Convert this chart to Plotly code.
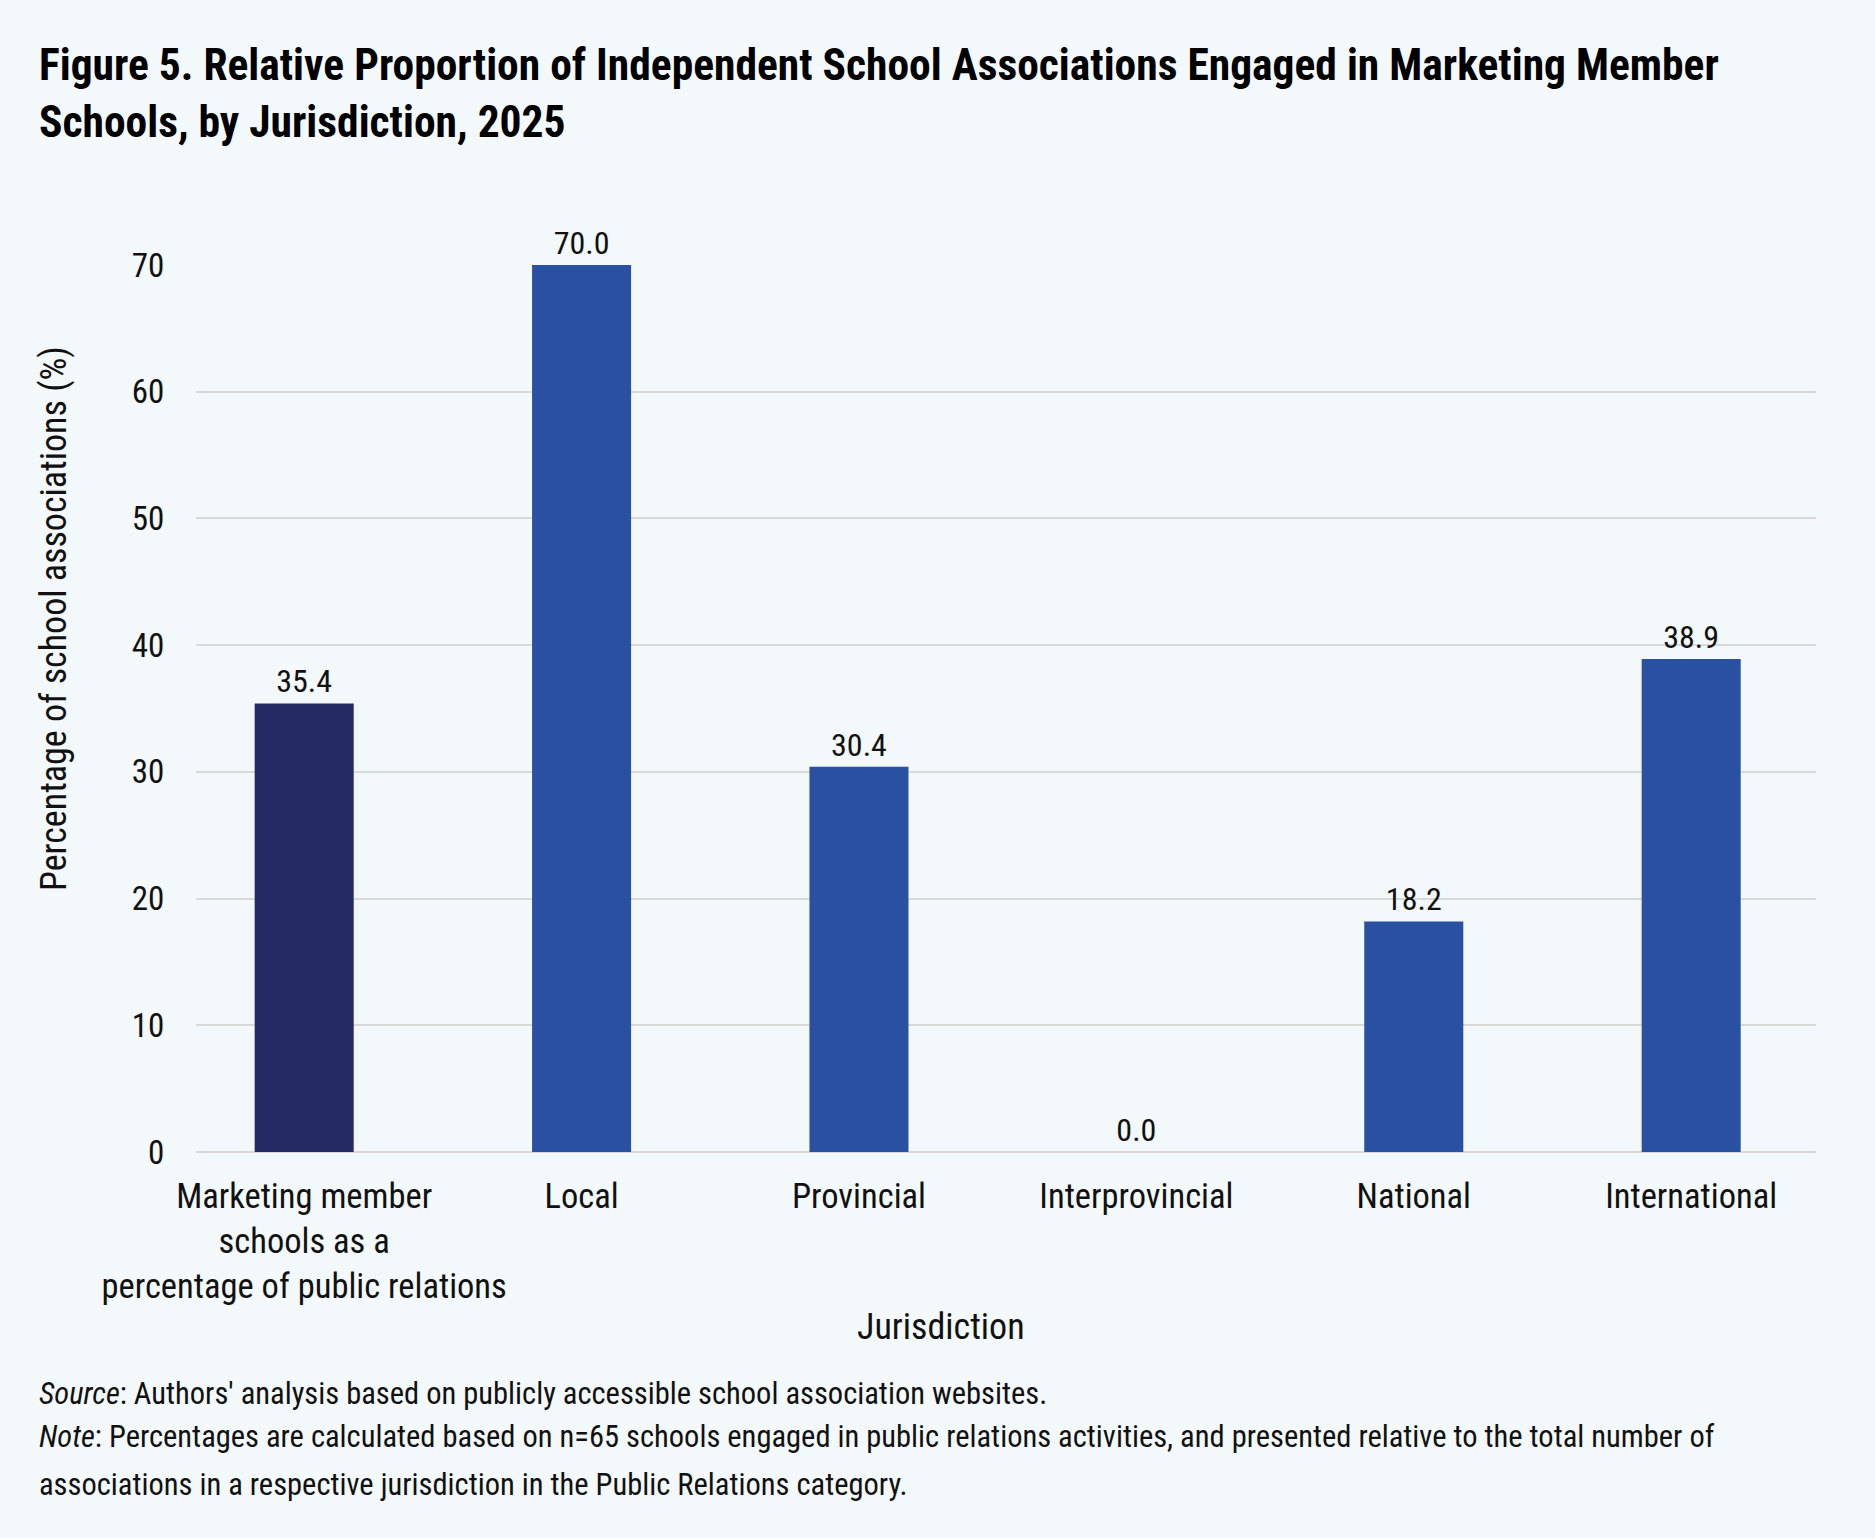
import plotly.graph_objects as go

categories = [
    "Marketing member<br>schools as a<br>percentage of public relations",
    "Local", "Provincial", "Interprovincial", "National", "International",
]
values = [35.4, 70.0, 30.4, 0.0, 18.2, 38.9]
bar_colors = ["#232A64", "#2A50A1", "#2A50A1", "#2A50A1", "#2A50A1", "#2A50A1"]
y_ticks = [0, 10, 20, 30, 40, 50, 60, 70]

title_text = ("<b>Figure 5. Relative Proportion of Independent School Associations Engaged in Marketing Member"
              "<br>Schools, by Jurisdiction, 2025</b>")
y_title = "Percentage of school associations (%)"
x_title = "Jurisdiction"
footnote_lines = [
    "<i>Source</i>: Authors' analysis based on publicly accessible school association websites.",
    "<i>Note</i>: Percentages are calculated based on n=65 schools engaged in public relations activities, "
    "and presented relative to the total number of",
    "associations in a respective jurisdiction in the Public Relations category.",
]
footnote_y = [1393, 1436, 1484]

FONT = "Roboto Condensed, Roboto, sans-serif"
BG = "#F3F8FB"
W, H = 1875, 1538
L, R, T, B = 196, 59, 265, 386
PW, PH = W - L - R, H - T - B


def f(size, color="#111111"):
    return dict(family=FONT, size=size, color=color)


fig = go.Figure()
fig.add_trace(go.Bar(
    x=list(range(len(categories))), y=values,
    marker=dict(color=bar_colors, line=dict(width=0)),
    width=0.357,
    text=[f"{v:.1f}" for v in values],
    textposition="outside",
    textfont=f(32),
    cliponaxis=False,
))

annotations = [
    dict(text=title_text, xref="paper", yref="paper", x=(37 - L) / PW,
         y=1 + (T - 38) / PH, xanchor="left", yanchor="top", align="left",
         showarrow=False, font=f(43.5, "#000000")),
    dict(text=y_title, xref="paper", yref="paper", x=(54 - L) / PW,
         y=(1152 - 619) / PH, xanchor="center", yanchor="middle",
         textangle=-90, showarrow=False, font=f(36)),
    dict(text=x_title, xref="paper", yref="paper", x=(941 - L) / PW,
         y=-(1327 - 1152) / PH, xanchor="center", yanchor="middle",
         showarrow=False, font=f(36)),
]
for line, yy in zip(footnote_lines, footnote_y):
    annotations.append(dict(text=line, xref="paper", yref="paper",
                            x=(37 - L) / PW, y=-(yy - 1152) / PH,
                            xanchor="left", yanchor="middle", align="left", showarrow=False,
                            font=f(30.5)))

fig.update_layout(
    width=W, height=H,
    margin=dict(l=L, r=R, t=T, b=B, pad=0),
    paper_bgcolor=BG, plot_bgcolor=BG,
    showlegend=False,
    font=f(32),
    xaxis=dict(
        tickmode="array", tickvals=list(range(len(categories))), ticktext=categories,
        range=[-0.39, 5.45],
        tickfont=f(34.5),
        ticks="outside", ticklen=14, tickcolor=BG,
        showgrid=False, zeroline=False, showline=False,
    ),
    yaxis=dict(
        range=[0, 70], tickvals=y_ticks,
        tickfont=f(33),
        ticks="outside", ticklen=24, tickcolor=BG,
        showgrid=True, gridcolor="#D9D9D9", gridwidth=2,
        zeroline=True, zerolinecolor="#D9D9D9", zerolinewidth=2,
        showline=False,
    ),
    annotations=annotations,
)

fig.write_html("out.html")
